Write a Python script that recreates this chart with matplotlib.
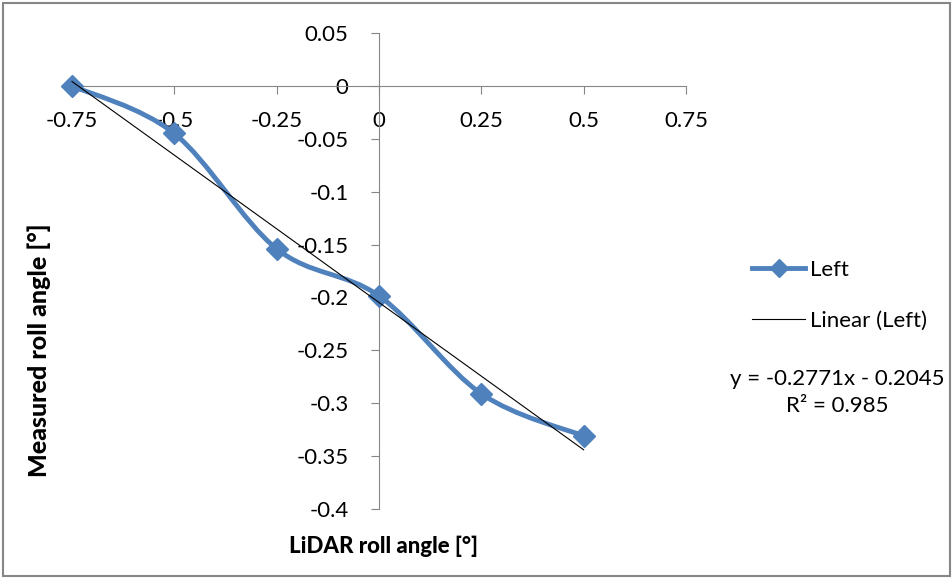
import matplotlib.pyplot as plt
from matplotlib.lines import Line2D
from matplotlib.path import Path
from matplotlib.patches import PathPatch, Rectangle
import numpy as np

plt.rcParams['font.family'] = ['Lato', 'DejaVu Sans']

# data
lidar_roll = [-0.75, -0.5, -0.25, 0.0, 0.25, 0.5]
measured_roll = [0.0, -0.045, -0.154, -0.1985, -0.291, -0.331]
x_ticks = [-0.75, -0.5, -0.25, 0, 0.25, 0.5, 0.75]
x_tick_labels = ["-0.75", "-0.5", "-0.25", "0", "0.25", "0.5", "0.75"]
y_ticks = [0.05, 0, -0.05, -0.1, -0.15, -0.2, -0.25, -0.3, -0.35, -0.4]
y_tick_labels = ["0.05", "0", "-0.05", "-0.1", "-0.15", "-0.2", "-0.25", "-0.3", "-0.35", "-0.4"]

blue = "#4F81BD"
axis_grey = "#868686"

fig = plt.figure(figsize=(9.53, 5.78), dpi=100)
ax = fig.add_axes([0.0755, 0.1194, 0.6443, 0.8235])
ax.set_xlim(-0.75, 0.75)
ax.set_ylim(-0.4, 0.05)

# smoothed line like Excel (Catmull-Rom -> cubic bezier)
pts = np.column_stack([lidar_roll, measured_roll])
verts = [tuple(pts[0])]
codes = [Path.MOVETO]
n = len(pts)
for i in range(n - 1):
    p0 = pts[i - 1] if i > 0 else pts[i]
    p1 = pts[i]
    p2 = pts[i + 1]
    p3 = pts[i + 2] if i + 2 < n else pts[i + 1]
    c1 = p1 + (p2 - p0) / 6
    c2 = p2 - (p3 - p1) / 6
    verts += [tuple(c1), tuple(c2), tuple(p2)]
    codes += [Path.CURVE4] * 3
ax.add_patch(PathPatch(Path(verts, codes), facecolor="none", edgecolor=blue,
                       lw=3.5, capstyle="round", zorder=3, clip_on=False))
ax.plot(lidar_roll, measured_roll, linestyle="none", marker="D", markersize=11,
        color=blue, zorder=4, clip_on=False)

# linear trendline
slope, intercept = np.polyfit(lidar_roll, measured_roll, 1)
xs = np.array([lidar_roll[0], lidar_roll[-1]])
ax.plot(xs, slope * xs + intercept, color="black", lw=0.8, zorder=5, clip_on=False)

# axes crossing at zero
for side in ["top", "right"]:
    ax.spines[side].set_visible(False)
ax.spines["left"].set_position(("data", 0))
ax.spines["bottom"].set_position(("data", 0))
ax.spines["left"].set_color(axis_grey)
ax.spines["bottom"].set_color(axis_grey)
ax.set_xticks(x_ticks)
ax.set_xticklabels(x_tick_labels)
ax.set_yticks(y_ticks)
ax.set_yticklabels(y_tick_labels)
ax.tick_params(axis="both", colors=axis_grey, labelcolor="black", labelsize=16,
               length=6, direction="out")
ax.tick_params(axis="x", pad=12)
ax.tick_params(axis="y", pad=16)
ax.patch.set_visible(False)

fig.text(0.041, 0.395, "Measured roll angle [°]", rotation=90, fontsize=18,
         fontweight="black", ha="center", va="center")
fig.text(0.402, 0.055, "LiDAR roll angle [°]", fontsize=16, fontweight="black",
         ha="center", va="center")

handles = [Line2D([], [], color=blue, lw=3.5, marker="D", markersize=9),
           Line2D([], [], color="black", lw=0.8)]
fig.legend(handles, ["Left", "Linear (Left)"], loc="center left",
           bbox_to_anchor=(0.768, 0.489), frameon=False, fontsize=16,
           handlelength=2.4, handletextpad=0.2, labelspacing=1.4)
fig.text(0.879, 0.321, "y = -0.2771x - 0.2045\nR² = 0.985", fontsize=16,
         ha="center", va="center", linespacing=1.45)

fig.patches.append(Rectangle((0.003, 0.003), 0.994, 0.992, transform=fig.transFigure,
                             fill=False, edgecolor=axis_grey, lw=1.5))

fig.savefig("out.png", dpi=100)
